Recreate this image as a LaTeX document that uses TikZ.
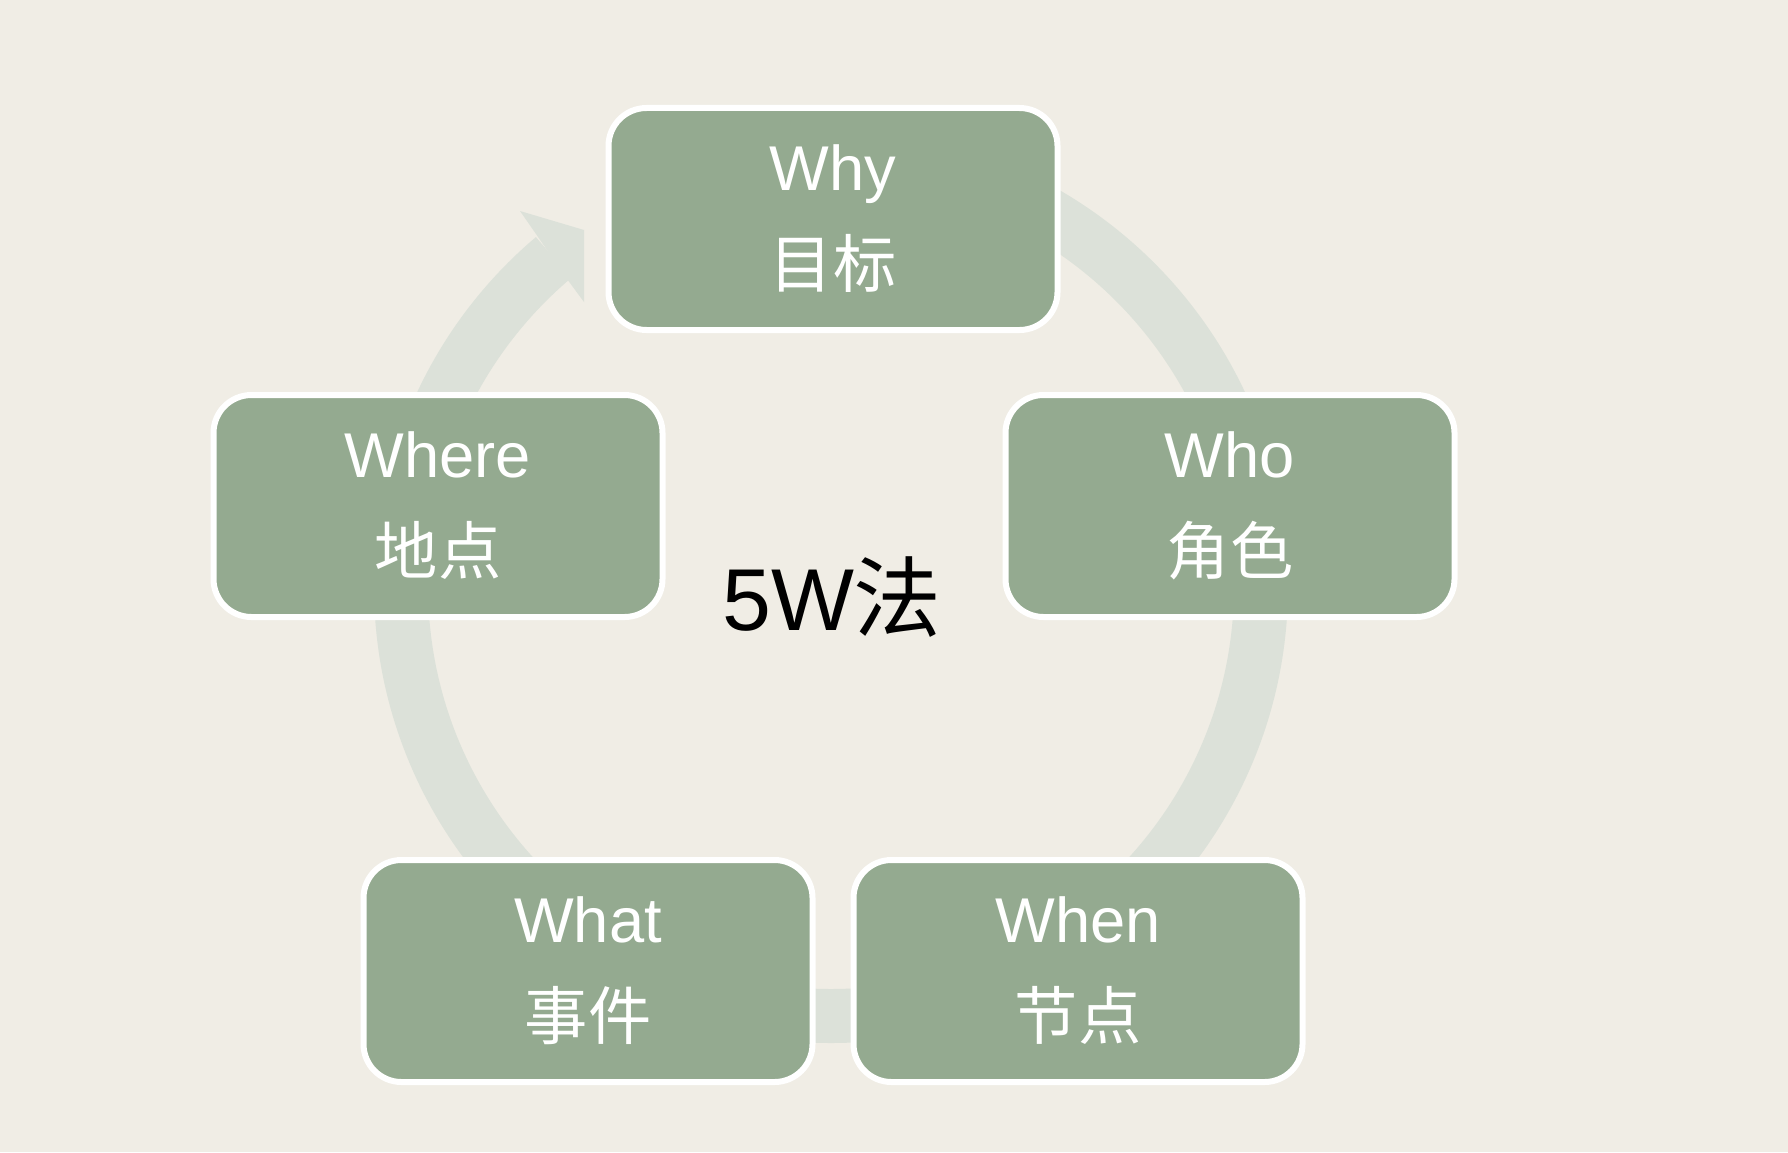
\documentclass[tikz,border=0pt]{standalone}
\usepackage{fontspec}
\setmainfont{Liberation Sans}
\newfontfamily\cjk{Noto Sans CJK SC}
\usetikzlibrary{positioning,calc}
\definecolor{PaperBg}{RGB}{240,237,229}
\definecolor{SageBox}{RGB}{148,170,144}
\definecolor{RingGray}{RGB}{220,225,217}

\begin{document}
\begin{tikzpicture}[
  wbox/.style={draw=white, line width=0.06cm, fill=SageBox, rounded corners=0.38cm,
    minimum width=4.49cm, minimum height=2.22cm, inner sep=0pt, align=center,
    text=white, font=\fontsize{18}{27.6}\selectfont}]
\fill[PaperBg] (0,0) rectangle (17.88,-11.52);
\useasboundingbox (0,0) rectangle (17.88,-11.52);
\coordinate (hub) at (8.31,-5.86);
\draw[RingGray, line width=0.54cm] ([shift={(90:4.30)}]hub)
  arc[start angle=90, end angle=-229.8, radius=4.30];
\fill[RingGray] (5.36,-2.34) -- (5.20,-2.11) -- (5.84,-2.30) -- (5.84,-3.02)
  -- (5.67,-2.79) -- cycle;
\foreach \nm/\en/\zh/\x/\y in {why/Why/目标/8.33/-2.19, who/Who/角色/12.30/-5.06,
  where/Where/地点/4.38/-5.06, what/What/事件/5.88/-9.71, when/When/节点/10.78/-9.71}{
  \node[wbox] (\nm) at (\x,\y) {\en\\{\cjk \zh}};
}
\node[font=\fontsize{25}{28}\selectfont] (title) at (8.32,-5.97) {5W{\cjk 法}};
\end{tikzpicture}
\end{document}
